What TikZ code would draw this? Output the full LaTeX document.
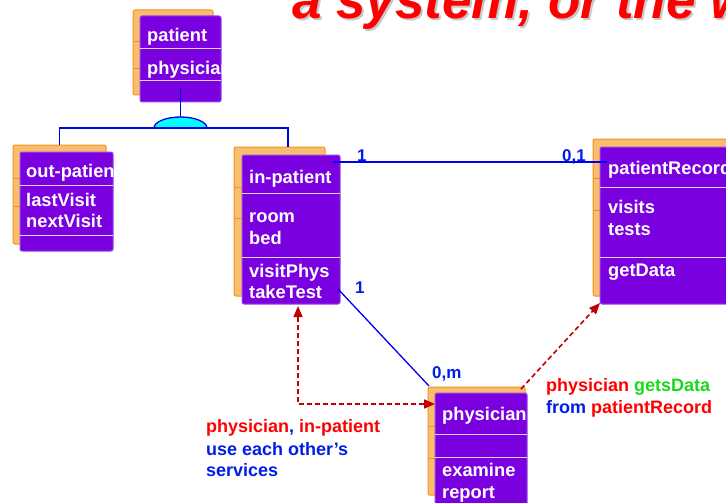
\documentclass[tikz,border=0pt]{standalone}
\usepackage{fontspec}
\setmainfont{Liberation Sans}
\usetikzlibrary{arrows.meta}
\definecolor{purpF}{RGB}{122,0,224}
\definecolor{purpB}{RGB}{150,70,235}
\definecolor{sepC}{RGB}{225,210,245}
\definecolor{orF}{RGB}{248,190,110}
\definecolor{orB}{RGB}{245,145,30}
\definecolor{lnBlue}{RGB}{0,0,240}
\definecolor{txBlue}{RGB}{0,30,230}
\definecolor{txRed}{RGB}{255,0,0}
\definecolor{txGreen}{RGB}{20,220,20}
\definecolor{depRed}{RGB}{190,0,0}
\definecolor{genCyan}{RGB}{0,255,255}
\definecolor{shadowG}{RGB}{200,200,200}
\begin{document}
\begin{tikzpicture}[x=1pt,y=-1pt,
 backbox/.style={draw=orB, fill=orF, line width=1pt, rounded corners=2pt, anchor=north west, inner sep=0pt, outer sep=0pt},
 frontbox/.style={draw=purpB, fill=purpF, line width=1pt, rounded corners=2pt, anchor=north west, inner sep=0pt, outer sep=0pt},
 sepline/.style={draw=sepC, line width=1pt},
 orline/.style={draw=orB, line width=1pt},
 ctext/.style={text=white, font=\fontsize{18.3}{22}\selectfont\bfseries, anchor=base west, inner sep=0pt},
 mult/.style={text=txBlue, font=\fontsize{17}{20}\selectfont\bfseries, anchor=base west, inner sep=0pt},
 note/.style={font=\fontsize{18}{22}\selectfont\bfseries, anchor=base west, inner sep=0pt},
 assoc/.style={draw=lnBlue, line width=1.3pt},
 dep/.style={draw=depRed, line width=1.6pt, dash pattern=on 5pt off 3pt}
]
\useasboundingbox (0,0) rectangle (726,503);
\clip (0,0) rectangle (726,503);

% title
\node[anchor=base west, inner sep=0pt, text=shadowG, font=\fontsize{53}{58}\selectfont\bfseries\itshape] (titleS) at (294,21) {a system, or the world};
\node[anchor=base west, inner sep=0pt, text=txRed, font=\fontsize{53}{58}\selectfont\bfseries\itshape] (title) at (292,19) {a system, or the world};

% ---- top class: patient / physician
\node[backbox, minimum width=80pt, minimum height=85pt] (topB) at (133,10) {};
\draw[orline] (133,42) -- (213,42) (133,69) -- (213,69);
\node[frontbox, minimum width=81pt, minimum height=86pt] (topF) at (140,16) {};
\draw[sepline] (140,49) -- (221,49) (140,81) -- (221,81);
\begin{scope}
\clip (140,16) rectangle (221,102);
\node[ctext] (topT1) at (147,42) {patient};
\node[ctext] (topT2) at (147,75) {physician};
\end{scope}

% ---- out-patient
\node[backbox, minimum width=93pt, minimum height=99pt] (outB) at (13,145) {};
\draw[orline] (13,178) -- (106,178) (13,206) -- (106,206);
\node[frontbox, minimum width=93pt, minimum height=99pt] (outF) at (20,152) {};
\draw[sepline] (20,185) -- (113,185) (20,235) -- (113,235);
\begin{scope}
\clip (20,152) rectangle (113,251);
\node[ctext] (outT1) at (26,177) {out-patient};
\node[ctext] (outT2) at (26,206) {lastVisit};
\node[ctext] (outT3) at (26,227) {nextVisit};
\end{scope}

% ---- in-patient
\node[backbox, minimum width=91pt, minimum height=149pt] (inB) at (234,147) {};
\draw[orline] (234,187) -- (325,187) (234,218) -- (325,218);
\node[frontbox, minimum width=98pt, minimum height=149pt] (inF) at (242,155) {};
\draw[sepline] (242,193) -- (340,193) (242,257) -- (340,257);
\node[ctext] (inT1) at (249,183) {in-patient};
\node[ctext] (inT2) at (249,222) {room};
\node[ctext] (inT3) at (249,244) {bed};
\node[ctext] (inT4) at (249,277) {visitPhys};
\node[ctext] (inT5) at (249,298) {takeTest};

% ---- patientRecord
\node[backbox, minimum width=150pt, minimum height=157pt] (recB) at (593,139) {};
\draw[orline] (593,178) -- (743,178) (593,210) -- (743,210);
\node[frontbox, minimum width=150pt, minimum height=157pt] (recF) at (600,147) {};
\draw[sepline] (600,187) -- (750,187) (600,257) -- (750,257);
\node[ctext] (recT1) at (608,174) {patientRecord};
\node[ctext] (recT2) at (608,213) {visits};
\node[ctext] (recT3) at (608,235) {tests};
\node[ctext] (recT4) at (608,276) {getData};

% ---- physician
\node[backbox, minimum width=97pt, minimum height=108pt] (phB) at (428,387) {};
\draw[orline] (428,426) -- (525,426) (428,458) -- (525,458);
\node[frontbox, minimum width=92pt, minimum height=130pt] (phF) at (435,393) {};
\draw[sepline] (435,434) -- (527,434) (435,457) -- (527,457);
\begin{scope}
\clip (435,393) rectangle (527,520);
\node[ctext] (phT1) at (442,420) {physician};
\node[ctext] (phT2) at (442,476) {examine};
\node[ctext] (phT3) at (442,498) {report};
\end{scope}

% ---- generalisation
\coordinate (topC) at (180.5,88);
\coordinate (genTop) at (180.5,117);
\coordinate (genBase) at (180.5,128);
\coordinate (genL) at (59.5,128);
\coordinate (genR) at (288,128);
\coordinate (inTop) at (288,147);
\draw[assoc] (topC) -- (genTop);
\draw[assoc, fill=genCyan] ([xshift=26.5pt]genBase) arc[start angle=0, end angle=180, x radius=26.5pt, y radius=11pt] -- cycle;
\draw[assoc] (outB.north) -- (genL) -- (genR) -- (inTop);

% ---- associations
\coordinate (inR) at (333,162);
\coordinate (recL) at (607,162);
\draw[assoc] (inR) -- (recL);
\coordinate (inBR) at (338,289);
\coordinate (phTL) at (429,386);
\draw[assoc] (inBR) -- (phTL);
\node[mult] (m1) at (357,161) {1};
\node[mult] (m2) at (562,161) {0,1};
\node[mult] (m3) at (355,293) {1};
\node[mult] (m4) at (432,378) {0,m};

% ---- dependencies
\coordinate (inBot) at (298,306);
\coordinate (corner) at (298,404);
\coordinate (phL) at (435,404);
\draw[dep, {Triangle[length=11pt,width=9pt]}-{Triangle[length=11pt,width=9pt]}] (inBot) -- (corner) -- (phL);
\coordinate (phTR) at (521,389);
\coordinate (recBL) at (600,303);
\draw[dep, -{Triangle[length=11pt,width=9pt]}] (phTR) -- (recBL);

% ---- notes
\node[note, text=txRed] (n1) at (206,432) {physician\textcolor{txBlue}{, }in-patient};
\node[note, text=txBlue] (n2) at (206,455) {use each other’s};
\node[note, text=txBlue] (n3) at (206,476) {services};
\node[note, text=txRed] (n4) at (546,391) {physician \textcolor{txGreen}{getsData}};
\node[note, text=txBlue] (n5) at (546,413) {from \textcolor{txRed}{patientRecord}};
\end{tikzpicture}
\end{document}
